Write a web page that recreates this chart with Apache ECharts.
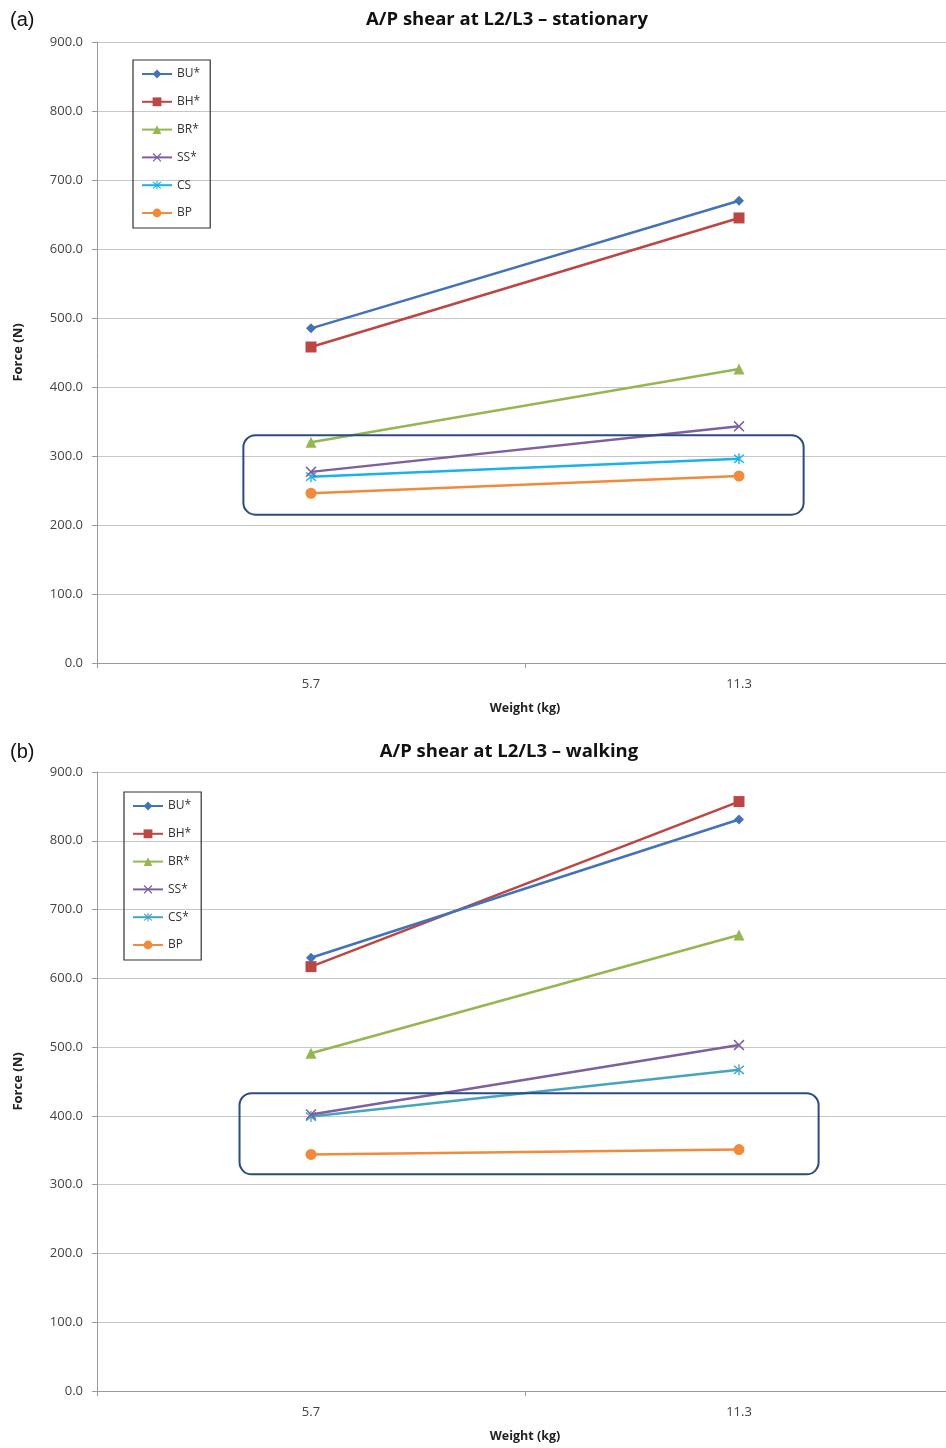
<!DOCTYPE html>
<html>
<head>
<meta charset="utf-8">
<script src="https://cdn.jsdelivr.net/npm/echarts@6/dist/echarts.min.js"></script>
<style>
html,body{margin:0;padding:0;background:#fff;overflow:hidden;width:946px;}
#a,#b{width:960px;height:724px;}
</style>
</head>
<body>
<div id="a"></div>
<div id="b"></div>
<script>
// ---------- data ----------
const categories = ['5.7', '11.3'];
const yTickMin = 0, yTickMax = 900, yTickStep = 100;

const namesA = ['BU*', 'BH*', 'BR*', 'SS*', 'CS', 'BP'];
const stationaryBU = [485, 670];
const stationaryBH = [458, 645];
const stationaryBR = [320, 426];
const stationarySS = [277, 343];
const stationaryCS = [270, 296];
const stationaryBP = [246, 271];

const namesB = ['BU*', 'BH*', 'BR*', 'SS*', 'CS*', 'BP'];
const walkingBU = [630, 831];
const walkingBH = [617, 857];
const walkingBR = [491, 663];
const walkingSS = [402, 503];
const walkingCS = [399, 467];
const walkingBP = [344, 351];

const titleA = 'A/P shear at L2/L3 – stationary';
const titleB = 'A/P shear at L2/L3 – walking';
const xName = 'Weight (kg)';
const yName = 'Force (N)';

// highlighted range (force values) for the rounded box annotation
const boxA = [215, 330];
const boxB = [315, 433];

// ---------- styles ----------
const FONT = '"Open Sans", Lato, sans-serif';
const XMARK = 'path://M1,0L5,4L9,0L10,1L6,5L10,9L9,10L5,6L1,10L0,9L4,5L0,1Z';
const STAR = 'path://M1,0L5,4L9,0L10,1L6,5L10,9L9,10L5,6L1,10L0,9L4,5L0,1ZM4.4,-1L5.6,-1L5.6,11L4.4,11Z';
const symbols = ['diamond', 'rect', 'triangle', XMARK, STAR, 'circle'];
const sizes = [10, 11, 11, 11, 11, 11];

function build(el, cfg) {
  const chart = echarts.init(document.getElementById(el), null, {renderer: 'canvas'});
  const series = cfg.values.map((vals, i) => ({
    name: cfg.names[i],
    type: 'line',
    data: vals,
    symbol: symbols[i],
    symbolSize: sizes[i],
    showAllSymbol: true,
    lineStyle: {width: 2.5, color: cfg.colors[i]},
    itemStyle: {color: cfg.colors[i]},
    z: 10 - i
  }));
  chart.setOption({
    animation: false,
    textStyle: {fontFamily: FONT},
    grid: {left: 97, top: cfg.gridTop, width: 856, height: cfg.gridH},
    legend: {
      orient: 'vertical',
      left: cfg.legLeft, top: cfg.legTop,
      data: cfg.names,
      itemWidth: 30, itemHeight: 11, itemGap: 15.8,
      padding: [8, 10, 9, 8],
      borderColor: '#333', borderWidth: 1.2,
      textStyle: {fontFamily: FONT, fontSize: 12, color: '#333'}
    },
    xAxis: {
      type: 'category',
      data: categories,
      boundaryGap: true,
      name: xName, nameLocation: 'middle', nameGap: 39,
      nameTextStyle: {fontFamily: FONT, fontSize: 12.5, fontWeight: 'bold', color: '#222'},
      axisLine: {lineStyle: {color: '#9a9a9a', width: 1}},
      axisTick: {show: true, length: 5, lineStyle: {color: '#9a9a9a'}},
      axisLabel: {fontFamily: FONT, fontSize: 13, color: '#444', margin: 15}
    },
    yAxis: {
      type: 'value', min: yTickMin, max: yTickMax, interval: yTickStep,
      name: yName, nameLocation: 'middle', nameGap: 72,
      nameTextStyle: {fontFamily: FONT, fontSize: 13, fontWeight: 'bold', color: '#222'},
      axisLine: {show: true, lineStyle: {color: '#9a9a9a'}},
      axisTick: {show: true, length: 5, lineStyle: {color: '#9a9a9a'}},
      axisLabel: {fontFamily: FONT, fontSize: 13, color: '#444', margin: 14,
        formatter: v => v.toFixed(1)},
      splitLine: {lineStyle: {color: '#c6c6c6', width: 1}}
    },
    series: series
  });
  const c0 = chart.convertToPixel({gridIndex: 0}, [0, cfg.box[1]]);
  const c1 = chart.convertToPixel({gridIndex: 0}, [1, cfg.box[0]]);
  const band = c1[0] - c0[0];
  const x0 = c0[0] - cfg.padL * band, x1 = c1[0] + cfg.padR * band;
  chart.setOption({
    graphic: [
      {type: 'text', x: 10, y: cfg.titleY, style: {text: cfg.tag, font: '20px "Liberation Sans", Arial, sans-serif', fill: '#111', textVerticalAlign: 'middle'}},
      {type: 'text', x: cfg.titleX, y: cfg.titleY, style: {text: cfg.title, font: 'bold 18.5px ' + FONT, fill: '#111', textAlign: 'center', textVerticalAlign: 'middle'}},
      {type: 'rect', z: 100, shape: {x: x0, y: c0[1], width: x1 - x0, height: c1[1] - c0[1], r: 12},
       style: {fill: 'none', stroke: '#2b4c7e', lineWidth: 2}}
    ]
  });
}

build('a', {
  names: namesA,
  values: [stationaryBU, stationaryBH, stationaryBR, stationarySS, stationaryCS, stationaryBP],
  colors: ['#4472b8', '#bb4644', '#94b752', '#7e5fa0', '#18b2ec', '#f28a3c'],
  gridTop: 42, gridH: 621,
  legLeft: 133, legTop: 60,
  title: titleA, tag: '(a)', titleX: 507, titleY: 20,
  box: boxA, padL: 0.158, padR: 0.151
});
build('b', {
  names: namesB,
  values: [walkingBU, walkingBH, walkingBR, walkingSS, walkingCS, walkingBP],
  colors: ['#4472b8', '#bb4644', '#94b752', '#7e5fa0', '#45a5c1', '#f28a3c'],
  gridTop: 48, gridH: 623,
  legLeft: 124, legTop: 68,
  title: titleB, tag: '(b)', titleX: 509, titleY: 28,
  box: boxB, padL: 0.167, padR: 0.186
});
</script>
</body>
</html>
